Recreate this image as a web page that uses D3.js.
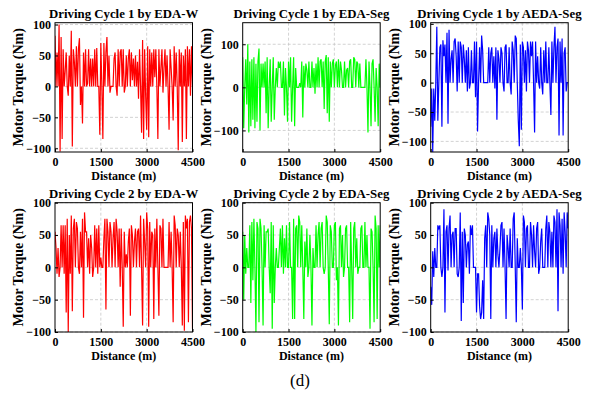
<!DOCTYPE html>
<html>
<head>
<meta charset="utf-8">
<script src="https://d3js.org/d3.v7.min.js"></script>
<style>
    body { margin: 0; background: #fff; }
    .grid line { stroke: #c8c8c8; stroke-width: 0.8; stroke-dasharray: 3, 2; }
</style>
</head>
<body>
<svg width="591" height="400"></svg>
<script>
    // torque samples (Nm), evenly spaced over 0..4500 m
    const torqueC1W = [
        82, 0, 55, 0, 100, -105, 80, -85, 60, 0,
        25, 55, 0, -15, 50, 0, 90, -97, 60, 40,
        0, 65, 0, 60, 78, -30, 0, -60, 55, 0,
        60, 0, 5, 60, 0, 45, 0, 45, 0, 60,
        0, 62, 0, 0, -78, 70, 0, -85, 70, 0,
        55, 80, 0, 50, -10, 0, 0, 0, 45, 55,
        0, -15, 60, 0, 55, 60, 0, 60, -10, 0,
        50, 0, 45, 60, 0, 55, 10, 45, 0, 50,
        0, 40, -20, 60, 0, -75, 75, -85, 60, -15,
        -70, 65, -82, 60, 0, 55, 0, 60, 15, 60,
        0, -85, 60, 0, 30, 60, -10, 30, 60, 0,
        50, 0, -70, 60, 30, 0, -55, 65, 0, 55,
        0, -103, 60, 0, 55, -90, 50, 0, 60, -85,
        65, 0, 60, -15, 65, 0];
    const torqueC1Seg = [
        70, -95, 0, 65, -40, 100, -105, 60, -90, 65,
        -75, 70, -95, 55, -80, 60, 90, -100, 55, 0,
        55, 0, 60, -60, 70, -95, 0, 65, -80, 0,
        70, -75, 0, 45, 0, 60, 45, 60, 0, 0,
        60, -65, 45, 0, -80, 60, 0, 70, -80, 0,
        70, -90, 45, 0, 0, 0, 10, 0, 60, -70,
        50, 0, 55, 40, 0, 60, 0, 0, 60, 0,
        45, -15, 55, 0, 70, 0, 60, 65, 0, 60,
        -50, 60, 75, -60, 70, -80, 60, 0, 55, 65,
        0, 50, 60, 0, 65, 0, 60, 40, 0, 0,
        60, 0, 40, 45, 0, 60, 65, 0, 0, 70,
        65, 0, 60, 55, 0, 55, 0, 0, 0, 0,
        0, 65, 0, -105, 60, 0, -90, 55, 65, 0,
        -80, 45, 0, -90, 55, 0];
    const torqueC1AEDA = [
        -75, -10, -118, -10, -65, 0, 95, -65, 0, 60,
        65, -75, 72, 45, 65, 0, 85, -70, 90, 0,
        40, 55, 0, 70, 75, 45, -15, 70, 0, 70,
        60, 0, 65, 40, 0, 55, -15, 60, -10, 0,
        55, 0, 0, 70, -25, 70, -83, 0, 60, 0,
        80, 55, 0, 0, 0, 0, 0, 60, 0, 50,
        60, 0, 45, -10, 60, -63, 55, 40, 0, 60,
        50, 0, -15, 60, 65, 0, 0, 60, 0, -20,
        70, 55, 0, 80, 75, 0, -65, -108, 65, -80,
        70, 60, 0, 55, -15, 70, 55, 0, 70, 45,
        70, 0, -85, 70, 0, 45, 0, -10, 60, 0,
        -20, 55, 0, 70, 0, 0, 60, 0, -55, 70,
        0, 60, 95, 0, 60, 75, -90, 70, 0, 75,
        -90, 50, 60, -15, 0, 0];
    const torqueC2W = [
        55, 30, -10, 30, -15, 0, 65, 0, 65, -10,
        65, -70, 75, -100, 50, -10, 80, -68, 60, 75,
        0, 70, 60, 0, -10, 55, 0, 75, -78, 85,
        55, 55, 0, 45, -10, 50, 30, -15, 0, 65,
        0, 60, -10, 65, 0, 15, 0, 0, 45, 75,
        -65, 75, 55, 0, 70, 55, 0, 45, 70, 0,
        75, 55, 0, 60, -30, 60, 0, -92, 55, 0,
        20, 0, 40, 60, -75, 65, 50, 0, 40, 60,
        0, 55, 60, 0, 80, 0, -90, 75, 40, 0,
        85, 60, -92, 70, 0, 55, 50, -80, 60, 0,
        75, 0, -75, 65, 60, 0, 75, 0, 0, 0,
        0, 0, 70, 0, 55, 0, -85, 80, 65, 0,
        60, 50, 0, 55, 0, -90, 70, -98, 80, 60,
        75, -85, 70, 80, 60, -95];
    const torqueC2Seg = [
        55, -50, 50, -10, 30, 0, 0, 65, -55, 70,
        -20, 75, 0, -100, 70, 60, -85, 75, 60, 0,
        -90, 65, 0, 55, 55, 60, 0, -40, 70, -95,
        65, -55, 0, 30, 0, 0, 30, 60, 0, 65,
        -10, 45, 0, 65, 0, 0, 70, 0, 0, -80,
        75, -80, 60, 65, 0, 80, 70, 0, 65, 0,
        -80, 40, 0, 60, -15, 0, 50, 0, -90, 30,
        0, 0, 65, 0, 50, 70, 0, 60, 70, 0,
        -10, 0, 80, 70, 0, -88, 65, 55, 0, 0,
        65, 70, -20, 0, -90, 60, 65, 0, 50, -15,
        0, 60, 65, 0, 0, -85, 70, 0, -80, 60,
        70, 0, 45, -10, 0, 0, 60, 65, 0, 0,
        70, 0, 50, 0, 0, -95, 60, 55, 0, -85,
        80, 60, -80, 65, 0, 65];
    const torqueC2AEDA = [
        -30, -58, 25, -15, 30, 0, 0, 65, 60, 65,
        0, -15, 0, 90, -70, 55, 65, -5, 60, 80,
        0, 50, 55, 0, 60, 60, -10, -15, 0, 85,
        -83, 55, -55, 60, 50, 0, 35, 40, -10, 65,
        50, 65, 0, 0, 0, -70, -10, -10, -60, -80,
        -70, -20, -80, 45, 65, 0, 85, 75, 50, -80,
        65, 0, 45, 55, 0, 60, 20, 0, 30, 65,
        70, 0, 60, 0, -80, 50, 30, 0, 60, 0,
        0, 75, 85, 0, -85, 45, 0, 0, 30, 0,
        -65, 80, 70, 0, 60, 65, 0, 0, 70, 50,
        0, 65, 25, 0, 60, 70, -10, 0, 40, 60,
        0, 0, 0, 60, 80, 0, 70, 55, 0, 55,
        0, 80, 70, 0, 90, -68, 85, 65, 0, 75,
        -10, 85, 55, 0, 85, 60];

    const titles = [
        "Driving Cycle 1 by EDA-W", "Driving Cycle 1 by EDA-Seg", "Driving Cycle 1 by AEDA-Seg",
        "Driving Cycle 2 by EDA-W", "Driving Cycle 2 by EDA-Seg", "Driving Cycle 2 by AEDA-Seg"];
    const series = [torqueC1W, torqueC1Seg, torqueC1AEDA, torqueC2W, torqueC2Seg, torqueC2AEDA];
    const colors = ["#ff0000", "#00ff00", "#0000ff", "#ff0000", "#00ff00", "#0000ff"];
    const yDomains = [[-106, 103], [-150, 150], [-118, 102], [-100, 100], [-100, 100], [-100, 100]];
    const yTicks = [[-100, -50, 0, 50, 100], [-100, 0, 100], [-100, -50, 0, 50, 100],
        [-100, -50, 0, 50, 100], [-100, -50, 0, 50, 100], [-100, -50, 0, 50, 100]];
    const xTicks = [0, 1500, 3000, 4500];
    const xMax = 4500;

    const svg = d3.select("svg");
    const colLeft = [55, 242.7, 430.7];
    const rowTop = [22.7, 202.7];
    const w = 137.5, h = 129.3;
    const serif = '"Liberation Serif"';

    function label(sel, size, bold) {
        return sel.style("font-family", serif)
            .style("font-size", size + "px")
            .style("font-weight", bold ? "bold" : "normal")
            .attr("fill", "#000");
    }

    series.forEach((data, k) => {
        const col = k % 3, row = Math.floor(k / 3);
        const g = svg.append("g")
            .attr("transform", `translate(${colLeft[col]},${rowTop[row]})`);

        const x = d3.scaleLinear().domain([0, xMax]).range([0, w]);
        const y = d3.scaleLinear().domain(yDomains[k]).range([h, 0]);
        const dist = d3.scaleLinear().domain([0, data.length - 1]).range([0, xMax]);

        // grid
        const grid = g.append("g").attr("class", "grid");
        grid.selectAll(".gx").data(xTicks.slice(1, -1)).join("line")
            .attr("x1", d => x(d)).attr("x2", d => x(d))
            .attr("y1", 0).attr("y2", h);
        grid.selectAll(".gy").data(yTicks[k]).join("line")
            .attr("x1", 0).attr("x2", w)
            .attr("y1", d => y(d)).attr("y2", d => y(d));

        g.append("clipPath").attr("id", "clip" + k)
            .append("rect").attr("width", w).attr("height", h);

        const line = d3.line()
            .x((d, i) => x(dist(i)))
            .y(d => y(d));

        g.append("path")
            .datum(data)
            .attr("clip-path", `url(#clip${k})`)
            .attr("fill", "none")
            .attr("stroke", colors[k])
            .attr("stroke-width", 1.2)
            .attr("d", line);

        // axes (ticks inside, like MATLAB)
        const xAxis = g.append("g").attr("transform", `translate(0,${h})`)
            .call(d3.axisBottom(x).tickValues(xTicks).tickSize(-3).tickPadding(5).tickFormat(d3.format("d")));
        const yAxis = g.append("g")
            .call(d3.axisLeft(y).tickValues(yTicks[k]).tickSize(-3).tickPadding(4).tickFormat(d3.format("d")));
        [xAxis, yAxis].forEach(a => {
            a.select(".domain").remove();
            a.selectAll(".tick line").attr("stroke", "#000");
            label(a.selectAll("text"), 12, true);
        });

        g.append("rect")
            .attr("width", w).attr("height", h)
            .attr("fill", "none").attr("stroke", "#000").attr("stroke-width", 1);

        label(g.append("text"), 12.8, true)
            .attr("x", w / 2).attr("y", -5)
            .attr("text-anchor", "middle")
            .text(titles[k]);

        label(g.append("text"), 12, true)
            .attr("x", w / 2).attr("y", h + 28)
            .attr("text-anchor", "middle")
            .text("Distance (m)");

        label(g.append("text"), 14, true)
            .attr("transform", `translate(-32,${h / 2}) rotate(-90)`)
            .attr("text-anchor", "middle")
            .text("Motor Torque (Nm)");
    });

    label(svg.append("text"), 17, false)
        .attr("x", 300).attr("y", 386)
        .attr("text-anchor", "middle")
        .text("(d)");
</script>
</body>
</html>
